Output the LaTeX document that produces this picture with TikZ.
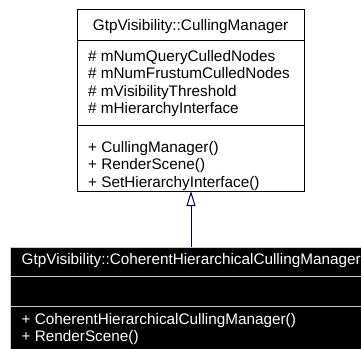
\documentclass[tikz,border=0pt]{standalone}
\usepackage{fontspec}
\setmainfont{Liberation Sans}
\usetikzlibrary{arrows.meta}
\begin{document}
\begin{tikzpicture}[x=1pt,y=-1pt,
  txt/.style={inner sep=0pt,anchor=base west,font=\fontsize{15.3}{17.6}\selectfont},
  comp/.style={draw=black,line width=1pt,inner sep=0pt,anchor=north west},
  dcomp/.style={draw=white!80!black,fill=black,line width=1pt,inner sep=0pt,anchor=north west},
  inherit/.style={draw=blue!35!black,line width=1pt,-{Triangle[open,length=15pt,width=9pt,fill=white]}}
]
\clip (0,0) rectangle (361,348);
\fill[white] (0,0) rectangle (361,348);
% top class
\node[comp,minimum width=227pt,minimum height=31pt] (ttitle) at (77,9) {};
\node[comp,minimum width=227pt,minimum height=85pt] (tattr) at (77,40) {};
\node[comp,minimum width=227pt,minimum height=66pt] (tmeth) at (77,125) {};
\node[txt,anchor=base] (tname) at (190.5,30) {GtpVisibility::CullingManager};
\node[txt] (a1) at (88,61) {\# mNumQueryCulledNodes};
\node[txt] (a2) at (88,78.6) {\# mNumFrustumCulledNodes};
\node[txt] (a3) at (88,96.2) {\# mVisibilityThreshold};
\node[txt] (a4) at (88,113.8) {\# mHierarchyInterface};
\node[txt] (m1) at (88,152) {+ CullingManager()};
\node[txt] (m2) at (88,169.6) {+ RenderScene()};
\node[txt] (m3) at (88,187.2) {+ SetHierarchyInterface()};
% bottom class
\node[dcomp,minimum width=400pt,minimum height=29pt] (btitle) at (10,247) {};
\node[dcomp,minimum width=400pt,minimum height=30pt] (battr) at (10,276) {};
\node[dcomp,minimum width=400pt,minimum height=60pt] (bmeth) at (10,306) {};
\node[txt,text=white] (bname) at (21.5,264) {GtpVisibility::CoherentHierarchicalCullingManager};
\node[txt,text=white] (bm1) at (21.5,324) {+ CoherentHierarchicalCullingManager()};
\node[txt,text=white] (bm2) at (21.5,341) {+ RenderScene()};
% inheritance
\coordinate (bt) at (191,247);
\coordinate (tb) at (191,191);
\draw[inherit] (bt) -- (tb);
\end{tikzpicture}
\end{document}
